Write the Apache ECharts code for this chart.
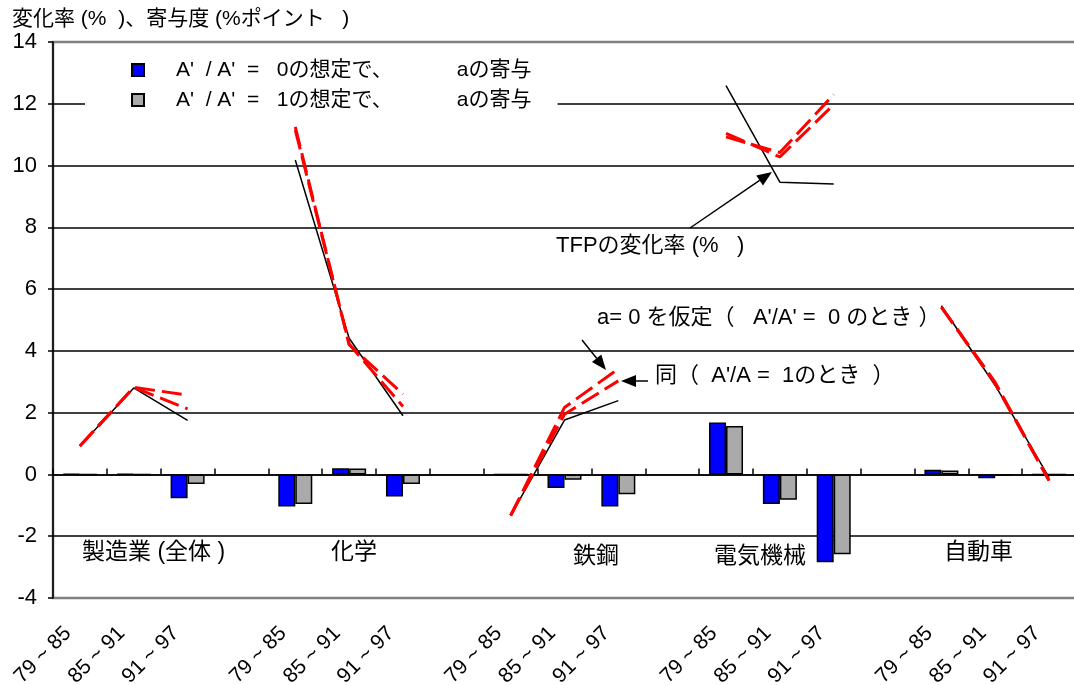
<!DOCTYPE html>
<html>
<head>
<meta charset="utf-8">
<script src="https://cdn.jsdelivr.net/npm/echarts@6/dist/echarts.min.js"></script>
<style>
  html, body { margin: 0; padding: 0; background: #fff; }
  #chart { width: 1074px; height: 685px; }
</style>
</head>
<body>
<div id="chart"></div>
<script>
// Periods repeated per industry, with an empty slot between industries
const periods = ['79 ~ 85', '85 ~ 91', '91 ~ 97'];
const categories = [
  ...periods, '', ...periods, '', ...periods, '', ...periods, '', ...periods
];
const industries = ['製造業 (全体 )', '化学', '鉄鋼', '電気機械', '自動車'];

// Contribution of a (percentage points)
const contribZero = [0.02, 0.02, -0.77, null, -1.04, 0.20, -0.71, null, 0, -0.44, -1.04, null, 1.68, -0.96, -2.84, null, 0.15, -0.12, 0];
const contribOne  = [0, 0, -0.31, null, -0.96, 0.19, -0.31, null, 0, -0.17, -0.64, null, 1.57, -0.82, -2.58, null, 0.13, -0.03, 0];

// TFP growth (%)
const tfp        = [0.92, 2.80, 1.75, null, 10.18, 4.41, 1.90, null, -1.33, 1.76, 2.39, null, 12.59, 9.46, 9.40, null, 5.46, 2.88, -0.10];
// TFP growth assuming a = 0 (A'/A' = 0) and A'/A = 1
const tfpZero    = [0.92, 2.82, 2.57, null, 11.25, 4.20, 2.60, null, -1.33, 2.17, 3.42, null, 10.93, 10.42, 12.30, null, 5.42, 2.98, -0.20];
const tfpOne     = [0.92, 2.82, 2.12, null, 11.15, 4.22, 2.20, null, -1.33, 1.95, 3.03, null, 11.04, 10.28, 11.97, null, 5.42, 2.93, -0.20];

const FONT = "'Liberation Sans', 'Noto Sans CJK JP', sans-serif";
const nameZero = "A'  / A'  =   0の想定で、           aの寄与";
const nameOne  = "A'  / A'  =   1の想定で、           aの寄与";

function arrow(x1, y1, x2, y2) {
  const dx = x2 - x1, dy = y2 - y1, L = Math.hypot(dx, dy);
  const ux = dx / L, uy = dy / L, hl = 15, hw = 6;
  const bx = x2 - ux * hl, by = y2 - uy * hl;
  return [
    { type: 'line', z: 20, shape: { x1: x1, y1: y1, x2: bx, y2: by }, style: { stroke: '#000', lineWidth: 1.5 } },
    { type: 'polygon', z: 20, shape: { points: [[x2, y2], [bx - uy * hw, by + ux * hw], [bx + uy * hw, by - ux * hw]] }, style: { fill: '#000' } }
  ];
}

function label(text, x, y, size) {
  return { type: 'text', z: 20, x: x, y: y,
    style: { text: text, fill: '#000', font: size + 'px ' + FONT, textVerticalAlign: 'middle' } };
}

const gridGray = '#808080';
const chart = echarts.init(document.getElementById('chart'));
chart.setOption({
  animation: false,
  backgroundColor: '#fff',
  grid: {
    left: 53, right: -2, top: 42, bottom: 87,
    outerBoundsMode: 'none', containLabel: false,
    show: true, borderColor: gridGray, borderWidth: 2.5, backgroundColor: 'transparent'
  },
  legend: {
    data: [nameZero, nameOne],
    orient: 'vertical', left: 85, top: 54,
    itemWidth: 12, itemHeight: 12, itemGap: 8,
    padding: [5, 26, 5, 46],
    backgroundColor: '#fff',
    icon: 'rect',
    textStyle: { fontSize: 21, fontFamily: FONT, color: '#000', lineHeight: 22, padding: [0, 0, 0, 27] }
  },
  xAxis: [
    {
      type: 'category', data: categories, position: 'bottom',
      axisLine: { show: false, onZero: false },
      axisTick: { show: false },
      axisLabel: { rotate: 45, interval: 0, margin: 20, padding: [0, 17, 0, 0], fontSize: 21, fontFamily: FONT, color: '#000' }
    },
    {
      type: 'category', data: categories, position: 'top',
      axisLine: { show: true, onZero: true, lineStyle: { color: '#000', width: 1.5 } },
      axisTick: { show: true, inside: false, length: 6, interval: 0, lineStyle: { color: '#000', width: 1.5 } },
      axisLabel: { show: false }
    }
  ],
  yAxis: {
    type: 'value', min: -4, max: 14, interval: 2,
    axisLine: { show: true, onZero: false, lineStyle: { color: '#000', width: 1.5 } },
    axisTick: { show: true, length: 5, lineStyle: { color: '#000', width: 1.5 } },
    axisLabel: { fontSize: 22, fontFamily: FONT, color: '#000', margin: 16 },
    splitLine: { show: true, lineStyle: { width: 1.5, color: [gridGray, '#000', '#000', '#000', '#000', '#000', '#000', '#000', '#000', gridGray] } }
  },
  series: [
    {
      name: nameZero, type: 'bar', data: contribZero, barWidth: 17, barGap: '0%',
      itemStyle: { color: '#0000ff', borderColor: '#000', borderWidth: 1.5 }
    },
    {
      name: nameOne, type: 'bar', data: contribOne, barWidth: 17, barGap: '0%',
      itemStyle: { color: '#aaaaaa', borderColor: '#000', borderWidth: 1.5 }
    },
    {
      name: 'TFPの変化率', type: 'line', data: tfp, symbol: 'none', z: 3,
      lineStyle: { color: '#000', width: 1.5 }
    },
    {
      name: 'a=0', type: 'line', data: tfpZero, symbol: 'none', z: 4,
      lineStyle: { color: '#ff0000', width: 3, type: [20, 7] }
    },
    {
      name: "A'/A=1", type: 'line', data: tfpOne, symbol: 'none', z: 4,
      lineStyle: { color: '#ff0000', width: 3, type: [20, 7] }
    }
  ],
  graphic: [
    label('変化率 (%  )、寄与度 (%ポイント   )', 12, 19, 21),
    label('TFPの変化率 (%   )', 556, 246, 22),
    label("a= 0 を仮定（   A'/A' =  0 のとき ）", 597, 318, 22),
    label("同（  A'/A =  1のとき  ）", 655, 376, 22),
    label(industries[0], 82, 553, 23),
    label(industries[1], 331, 553, 23),
    label(industries[2], 573, 557, 23),
    label(industries[3], 714, 557, 23),
    label(industries[4], 944, 553, 23),
    ...arrow(690, 228, 772, 172),
    ...arrow(582, 340, 606, 370),
    ...arrow(648, 381, 621, 381)
  ]
});
</script>
</body>
</html>
